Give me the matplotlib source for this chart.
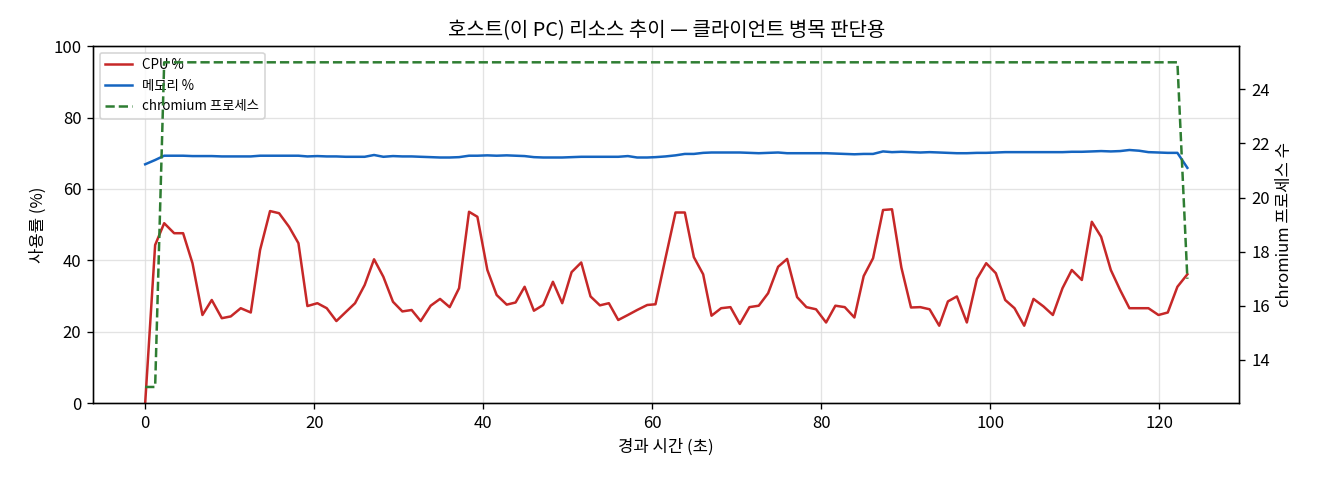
import matplotlib
matplotlib.use("Agg")
import matplotlib.pyplot as plt

plt.rcParams['font.family'] = ['Noto Sans CJK KR', 'DejaVu Sans']
plt.rcParams['axes.unicode_minus'] = False

# elapsed time (s)
times = [
    0.00, 1.18, 2.25, 3.43, 4.49, 5.60, 6.78, 7.88, 9.07, 10.13,
    11.31, 12.50, 13.60, 14.78, 15.85, 17.03, 18.14, 19.20, 20.38, 21.49,
    22.63, 23.73, 24.84, 25.98, 27.09, 28.19, 29.33, 30.44, 31.54, 32.61,
    33.79, 34.90, 36.04, 37.15, 38.33, 39.32, 40.50, 41.60, 42.79, 43.84,
    44.91, 46.01, 47.11, 48.26, 49.36, 50.47, 51.61, 52.71, 53.82, 54.88,
    55.99, 57.13, 58.23, 59.42, 60.40, 61.58, 62.77, 63.87, 64.94, 66.04,
    67.03, 68.17, 69.27, 70.38, 71.52, 72.62, 73.73, 74.91, 75.98, 77.16,
    78.26, 79.40, 80.59, 81.69, 82.80, 83.94, 85.04, 86.15, 87.33, 88.39,
    89.50, 90.64, 91.74, 92.84, 93.98, 95.01, 96.07, 97.25, 98.44, 99.54,
    100.68, 101.79, 102.89, 104.04, 105.14, 106.32, 107.43, 108.57, 109.67, 110.86,
    112.04, 113.14, 114.29, 115.39, 116.49, 117.64, 118.74, 119.93, 121.03, 122.17,
    123.35,
]

cpu = [
    0.0, 44.3, 50.4, 47.6, 47.6, 39.2, 24.7, 28.9, 23.8, 24.3,
    26.6, 25.4, 42.9, 53.8, 53.2, 49.4, 44.8, 27.2, 28.0, 26.6,
    23.0, 25.5, 28.0, 33.1, 40.3, 35.4, 28.4, 25.7, 26.1, 23.0,
    27.3, 29.2, 26.9, 32.2, 53.6, 52.2, 37.3, 30.3, 27.6, 28.2,
    32.6, 25.9, 27.5, 34.0, 28.0, 36.7, 39.4, 29.9, 27.4, 28.0,
    23.3, 24.7, 26.1, 27.5, 27.7, 40.6, 53.4, 53.4, 40.9, 36.1,
    24.5, 26.6, 26.9, 22.2, 26.9, 27.3, 30.8, 38.2, 40.4, 29.7,
    26.9, 26.3, 22.6, 27.3, 26.9, 24.0, 35.6, 40.6, 54.1, 54.3,
    38.0, 26.8, 26.9, 26.3, 21.7, 28.5, 29.9, 22.6, 34.8, 39.2,
    36.4, 28.9, 26.6, 21.7, 29.2, 27.1, 24.7, 32.2, 37.3, 34.5,
    50.8, 46.6, 37.3, 31.7, 26.6, 26.6, 26.6, 24.7, 25.4, 32.6,
    36.1,
]

memory = [
    66.9, 68.1, 69.3, 69.3, 69.3, 69.2, 69.2, 69.2, 69.1, 69.1,
    69.1, 69.1, 69.3, 69.3, 69.3, 69.3, 69.3, 69.1, 69.2, 69.1,
    69.1, 69.0, 69.0, 69.0, 69.5, 69.0, 69.2, 69.1, 69.1, 69.0,
    68.9, 68.8, 68.8, 68.9, 69.3, 69.3, 69.4, 69.3, 69.4, 69.3,
    69.2, 68.9, 68.8, 68.8, 68.8, 68.9, 69.0, 69.0, 69.0, 69.0,
    69.0, 69.2, 68.8, 68.8, 68.9, 69.1, 69.4, 69.8, 69.8, 70.1,
    70.2, 70.2, 70.2, 70.2, 70.1, 70.0, 70.1, 70.2, 70.0, 70.0,
    70.0, 70.0, 70.0, 69.9, 69.8, 69.7, 69.8, 69.8, 70.5, 70.3,
    70.4, 70.3, 70.2, 70.3, 70.2, 70.1, 70.0, 70.0, 70.1, 70.1,
    70.2, 70.3, 70.3, 70.3, 70.3, 70.3, 70.3, 70.3, 70.4, 70.4,
    70.5, 70.6, 70.5, 70.6, 70.9, 70.7, 70.3, 70.2, 70.1, 70.1,
    65.9,
]

procs = [
    13, 13, 25, 25, 25, 25, 25, 25, 25, 25,
    25, 25, 25, 25, 25, 25, 25, 25, 25, 25,
    25, 25, 25, 25, 25, 25, 25, 25, 25, 25,
    25, 25, 25, 25, 25, 25, 25, 25, 25, 25,
    25, 25, 25, 25, 25, 25, 25, 25, 25, 25,
    25, 25, 25, 25, 25, 25, 25, 25, 25, 25,
    25, 25, 25, 25, 25, 25, 25, 25, 25, 25,
    25, 25, 25, 25, 25, 25, 25, 25, 25, 25,
    25, 25, 25, 25, 25, 25, 25, 25, 25, 25,
    25, 25, 25, 25, 25, 25, 25, 25, 25, 25,
    25, 25, 25, 25, 25, 25, 25, 25, 25, 25,
    17,
]

fig, ax = plt.subplots(figsize=(11, 4), dpi=120)
fig.subplots_adjust(left=0.0705, right=0.939, top=0.904, bottom=0.160)

l1, = ax.plot(times, cpu, color='#c62828', lw=1.5, label='CPU %')
l2, = ax.plot(times, memory, color='#1565c0', lw=1.5, label='메모리 %')
ax.set_ylim(0, 100)
ax.set_xlabel('경과 시간 (초)')
ax.set_ylabel('사용률 (%)')
ax.grid(True, color='#dddddd', lw=0.8, alpha=0.8)
ax.set_title('호스트(이 PC) 리소스 추이 — 클라이언트 병목 판단용')

ax2 = ax.twinx()
l3, = ax2.plot(times, procs, color='#2e7d32', lw=1.5, ls='--', label='chromium 프로세스')
ax2.set_ylabel('chromium 프로세스 수')

ax.legend(handles=[l1, l2, l3], loc='upper left', fontsize=8)

fig.savefig('out.png', dpi=120)
